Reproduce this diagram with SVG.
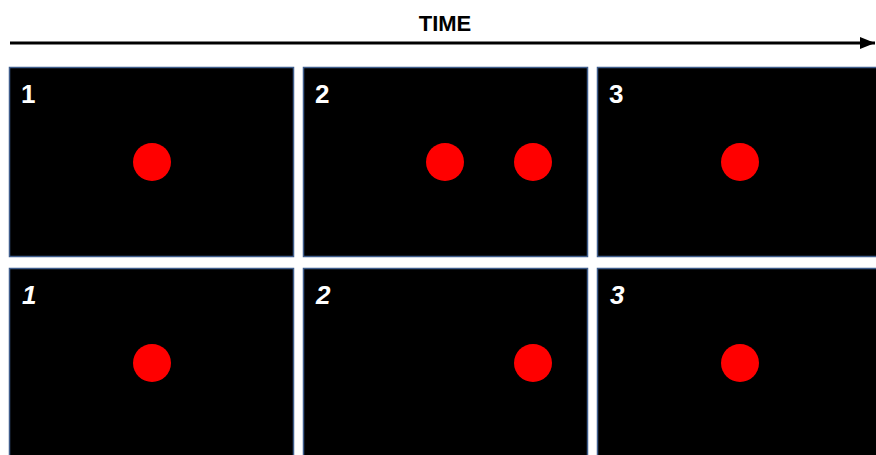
<svg xmlns="http://www.w3.org/2000/svg" width="876" height="455" viewBox="0 0 876 455">
<style>
.panel{fill:#000;stroke:#3f5d8c;stroke-width:1.5}
.dot{fill:#ff0000}
.lbl{font-family:"Liberation Sans",Arial,sans-serif;font-weight:bold;font-size:26px;fill:#fff}
.it{font-style:italic}
.title{font-family:"Liberation Sans",Arial,sans-serif;font-weight:bold;font-size:22px;fill:#000}
</style>
<defs>
<marker id="ah" markerWidth="6" markerHeight="6" refX="5" refY="3" orient="auto" markerUnits="strokeWidth">
<path d="M0,1 L5,3 L0,5 Z" fill="#000"/>
</marker>
</defs>
<rect width="876" height="455" fill="#fff"/>
<text class="title" x="445" y="31" text-anchor="middle">TIME</text>
<g id="connectors">
<line x1="10" y1="43" x2="875" y2="43" stroke="#000" stroke-width="3" marker-end="url(#ah)"/>
</g>
<g id="p1"><rect class="panel" x="9.5" y="67.5" width="284" height="189"/><text class="lbl" x="21" y="103">1</text><circle class="dot" cx="152" cy="162" r="19"/></g>
<g id="p2"><rect class="panel" x="303.5" y="67.5" width="284" height="189"/><text class="lbl" x="315" y="103">2</text><circle class="dot" cx="445" cy="162" r="19"/><circle class="dot" cx="533" cy="162" r="19"/></g>
<g id="p3"><rect class="panel" x="597.5" y="67.5" width="290" height="189"/><text class="lbl" x="609" y="103">3</text><circle class="dot" cx="740" cy="162" r="19"/></g>
<g id="p4"><rect class="panel" x="9.5" y="268.5" width="284" height="200"/><text class="lbl it" x="22" y="304">1</text><circle class="dot" cx="152" cy="363" r="19"/></g>
<g id="p5"><rect class="panel" x="303.5" y="268.5" width="284" height="200"/><text class="lbl it" x="316" y="304">2</text><circle class="dot" cx="533" cy="363" r="19"/></g>
<g id="p6"><rect class="panel" x="597.5" y="268.5" width="290" height="200"/><text class="lbl it" x="610" y="304">3</text><circle class="dot" cx="740" cy="363" r="19"/></g>
</svg>
